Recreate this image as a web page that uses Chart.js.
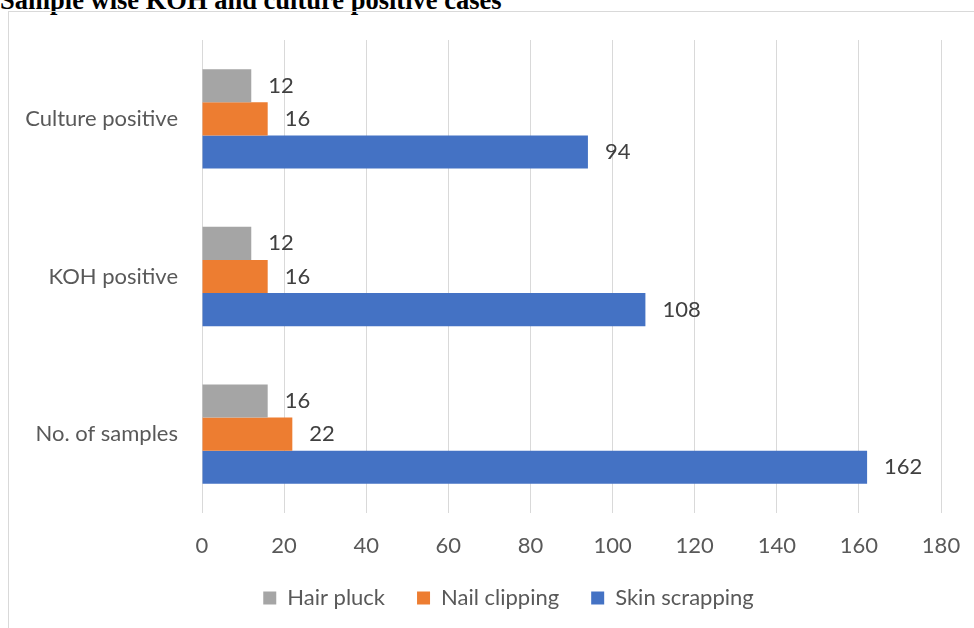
<!DOCTYPE html>
<html>
<head>
<meta charset="utf-8">
<script src="https://cdn.jsdelivr.net/npm/chart.js@4.4.0/dist/chart.umd.min.js"></script>
<style>
  body { margin: 0; background: #fff; overflow: hidden; }
  #wrap { position: relative; width: 974px; height: 628px; }
  #title { position: absolute; left: 0; top: -15px; line-height: 26px; font: bold 26.5px "Liberation Serif", "Times New Roman", serif; color: #000; white-space: nowrap; }
  #frame { position: absolute; left: 8px; top: 11px; width: 1000px; height: 700px; border: 1px solid #d9d9d9; }
  #c { position: absolute; left: 0; top: 0; }
</style>
</head>
<body>
<div id="wrap">
  <div id="title">Sample wise KOH and culture positive cases</div>
  <div id="frame"></div>
  <canvas id="c" width="974" height="628"></canvas>
</div>
<script>
var categories = ["Culture positive", "KOH positive", "No. of samples"];
var hairPluck = [12, 12, 16];
var nailClipping = [16, 16, 22];
var skinScrapping = [94, 108, 162];
var xTicks = [0, 20, 40, 60, 80, 100, 120, 140, 160, 180];

var font = { family: 'Lato, "Open Sans", sans-serif', size: 22 };

// value labels just right of each bar end
var barLabels = {
    id: 'barLabels',
    afterDatasetsDraw: function (chart) {
        var ctx = chart.ctx;
        ctx.save();
        ctx.font = font.size + 'px ' + font.family;
        ctx.fillStyle = '#404040';
        ctx.textAlign = 'left';
        ctx.textBaseline = 'middle';
        chart.data.datasets.forEach(function (ds, i) {
            chart.getDatasetMeta(i).data.forEach(function (bar, j) {
                ctx.fillText(ds.data[j], bar.x + 17, bar.y);
            });
        });
        ctx.restore();
    }
};

// nudge the legend to the right, like the original
var legendShift = {
    id: 'legendShift',
    afterLayout: function (chart) {
        var lg = chart.legend;
        lg.left += 38; lg.right += 38;
        lg.top -= 8; lg.bottom -= 8;
    }
};

var ctx = document.getElementById('c').getContext('2d');
var chart = new Chart(ctx, {
    type: 'bar',
    data: {
        labels: categories,
        datasets: [
            { label: 'Hair pluck', data: hairPluck, backgroundColor: '#A5A5A5' },
            { label: 'Nail clipping', data: nailClipping, backgroundColor: '#ED7D31' },
            { label: 'Skin scrapping', data: skinScrapping, backgroundColor: '#4472C4' }
        ]
    },
    options: {
        indexAxis: 'y',
        responsive: false,
        animation: false,
        categoryPercentage: 0.63,
        barPercentage: 1,
        layout: { padding: { left: 0, right: 33, top: 40, bottom: 1 } },
        scales: {
            x: {
                min: 0,
                max: 180,
                afterBuildTicks: function (scale) {
                    scale.ticks = xTicks.map(function (v) { return { value: v }; });
                },
                afterFit: function (scale) { scale.height = 50; },
                grid: { color: '#d9d9d9', drawTicks: true, tickLength: 19, tickColor: 'rgba(0,0,0,0)' },
                border: { display: false },
                ticks: { color: '#595959', font: font, padding: 1 }
            },
            y: {
                afterFit: function (scale) { scale.width = 202; },
                grid: { display: false },
                border: { display: false },
                ticks: { color: '#595959', font: font, padding: 16 }
            }
        },
        plugins: {
            legend: {
                position: 'bottom',
                labels: { boxWidth: 13, boxHeight: 13, color: '#595959', font: font, padding: 32 }
            },
            tooltip: { enabled: false }
        }
    },
    plugins: [barLabels, legendShift]
});
</script>
</body>
</html>
